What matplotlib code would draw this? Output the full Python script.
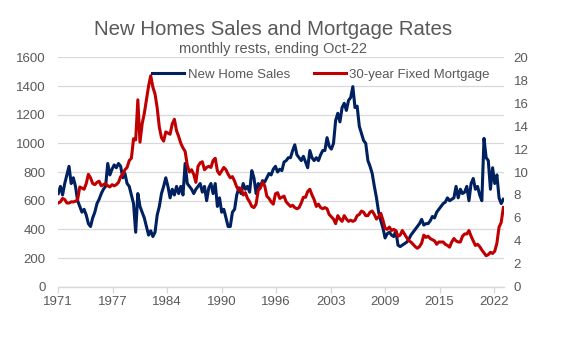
import numpy as np
import matplotlib
matplotlib.use("Agg")
import matplotlib.pyplot as plt

# New home sales (thousands, SAAR), quarterly, 1971Q1 .. 2022Q4 (Oct)
ventas = [
    650, 700, 640, 720,   # 1971
    780, 840, 720, 760,   # 1972
    700, 600, 560, 520,   # 1973
    540, 500, 440, 420,   # 1974
    480, 520, 580, 610,   # 1975
    650, 680, 700, 860,   # 1976
    780, 820, 850, 830,   # 1977
    860, 840, 760, 790,   # 1978
    720, 700, 640, 580,   # 1979
    380, 650, 560, 520,   # 1980
    480, 420, 360, 390,   # 1981
    350, 380, 500, 560,   # 1982
    650, 700, 760, 700,   # 1983
    620, 680, 640, 700,   # 1984
    650, 700, 640, 860,   # 1985
    720, 700, 680, 650,   # 1986
    680, 700, 720, 660,   # 1987
    700, 600, 690, 720,   # 1988
    650, 720, 560, 620,   # 1989
    520, 540, 480, 420,   # 1990
    420, 520, 540, 640,   # 1991
    690, 650, 720, 680,   # 1992
    700, 660, 810, 760,   # 1993
    650, 720, 700, 740,   # 1994
    730, 760, 790, 780,   # 1995
    820, 840, 800, 820,   # 1996
    810, 870, 880, 900,   # 1997
    900, 950, 990, 920,   # 1998
    900, 880, 910, 870,   # 1999
    830, 950, 900, 880,   # 2000
    900, 880, 920, 950,   # 2001
    950, 1040, 980, 960,  # 2002
    1000, 1160, 1210, 1150,  # 2003
    1250, 1280, 1230, 1300,  # 2004
    1320, 1396, 1250, 1260,  # 2005
    1120, 1070, 1020, 1000,  # 2006
    880, 840, 790, 700,   # 2007
    620, 520, 460, 410,   # 2008
    340, 370, 380, 360,   # 2009
    350, 390, 290, 280,   # 2010
    290, 300, 310, 330,   # 2011
    360, 380, 400, 420,   # 2012
    440, 470, 430, 440,   # 2013
    440, 460, 490, 480,   # 2014
    520, 540, 560, 580,   # 2015
    590, 620, 600, 610,   # 2016
    620, 700, 620, 680,   # 2017
    650, 660, 700, 600,   # 2018
    720, 755, 680, 700,   # 2019
    640, 600, 1035, 900,  # 2020
    880, 680, 830, 720,   # 2021
    780, 620, 580, 610,   # 2022
]

# 30-year fixed mortgage rate (%), same quarters
hipoteca = [
    7.3, 7.4, 7.7, 7.6,
    7.3, 7.3, 7.4, 7.4,
    7.45, 7.6, 8.7, 8.6,
    8.5, 9.0, 9.8, 9.5,
    9.0, 8.9, 9.1, 9.2,
    8.8, 8.9, 9.0, 8.8,
    8.7, 8.9, 8.8, 8.9,
    9.1, 9.6, 9.8, 10.2,
    10.4, 11.0, 11.2, 12.9,
    12.8, 16.3, 12.6, 14.2,
    15.1, 16.3, 17.5, 18.4,
    17.4, 16.8, 15.6, 13.9,
    13.0, 12.7, 13.5, 13.4,
    13.3, 14.2, 14.6, 13.6,
    13.1, 12.5, 12.1, 11.8,
    10.6, 10.0, 10.2, 9.8,
    9.1, 10.5, 10.8, 10.9,
    10.2, 10.4, 10.5, 10.4,
    11.0, 11.2, 10.1, 9.8,
    10.1, 10.4, 10.2, 9.8,
    9.5, 9.6, 9.2, 8.7,
    8.4, 8.6, 8.0, 8.2,
    7.7, 7.4, 7.0, 6.9,
    7.2, 8.4, 8.6, 9.1,
    8.8, 7.9, 7.7, 7.4,
    7.2, 8.1, 8.2, 7.7,
    7.8, 7.9, 7.4, 7.2,
    7.0, 7.1, 6.9, 6.8,
    6.9, 7.3, 7.8, 7.8,
    8.3, 8.5, 8.0, 7.6,
    7.0, 7.2, 6.9, 6.8,
    6.9, 6.8, 6.3, 6.1,
    5.9, 5.5, 6.2, 5.9,
    5.7, 6.2, 5.9, 5.7,
    5.8, 5.7, 5.8, 6.2,
    6.3, 6.6, 6.5, 6.2,
    6.2, 6.5, 6.6, 6.3,
    5.9, 6.1, 6.4, 5.8,
    5.1, 5.0, 5.2, 4.9,
    5.0, 4.9, 4.4, 4.5,
    4.9, 4.6, 4.3, 4.0,
    3.9, 3.7, 3.5, 3.35,
    3.5, 3.8, 4.5, 4.3,
    4.4, 4.2, 4.1, 4.0,
    3.7, 3.9, 3.9, 3.9,
    3.7, 3.6, 3.45, 3.9,
    4.2, 4.0, 3.9, 3.9,
    4.4, 4.6, 4.6, 4.9,
    4.4, 4.0, 3.6, 3.7,
    3.5, 3.2, 2.95, 2.7,
    2.8, 3.0, 2.9, 3.1,
    3.8, 5.2, 5.6, 6.9,
]

etiquetas_x = ["1971", "1977", "1984", "1990", "1996", "2003", "2009", "2015", "2022"]

# eje x en años decimales
anios = 1971 + np.arange(len(ventas)) / 4
posiciones = 1971 + np.arange(len(etiquetas_x)) * 76 / 12

azul = "#002060"
rojo = "#C00000"
gris = "#595959"
rejilla = "#D9D9D9"

plt.rcParams["font.family"] = ["Liberation Sans", "DejaVu Sans"]

fig = plt.figure(figsize=(5.62, 3.43), dpi=100)
ax = fig.add_axes([0.1037, 0.1641, 0.7927, 0.6686])
ax2 = ax.twinx()

l1, = ax.plot(anios, ventas, color=azul, lw=2.2, label="New Home Sales")
l2, = ax2.plot(anios, hipoteca, color=rojo, lw=2.2, label="30-year Fixed Mortgage")

ax.set_xlim(1971, 2022.8)
ax.set_ylim(0, 1600)
ax.set_yticks(range(0, 1601, 200))
ax2.set_ylim(0, 20)
ax2.set_yticks(range(0, 21, 2))

ax.set_xticks(posiciones)
ax.set_xticklabels(etiquetas_x)

ax.grid(axis="y", color=rejilla, lw=0.9)
ax.set_axisbelow(True)

for a in (ax, ax2):
    for s in ("top", "left", "right"):
        a.spines[s].set_visible(False)
    a.spines["bottom"].set_color(rejilla)
    a.spines["bottom"].set_linewidth(0.9)

ax.tick_params(axis="x", colors=rejilla, labelcolor=gris, labelsize=9.5,
               length=4, width=0.9, pad=3)
ax.tick_params(axis="y", length=0, labelcolor=gris, labelsize=9.5, pad=9)
ax2.tick_params(axis="y", length=0, labelcolor=gris, labelsize=9.5, pad=7)

ax2.legend(handles=[l1, l2], loc="center", bbox_to_anchor=(0.59, 0.925),
           ncol=2, frameon=False, fontsize=9.5, labelcolor=gris,
           handlelength=2.4, handletextpad=0.3, columnspacing=1.8)

fig.text(0.486, 0.914, "New Homes Sales and Mortgage Rates", ha="center",
         va="center", fontsize=14.7, color=gris)
fig.text(0.486, 0.856, "monthly rests, ending Oct-22", ha="center",
         va="center", fontsize=10.5, color=gris)

fig.savefig("out.png", dpi=100)
plt.close(fig)
